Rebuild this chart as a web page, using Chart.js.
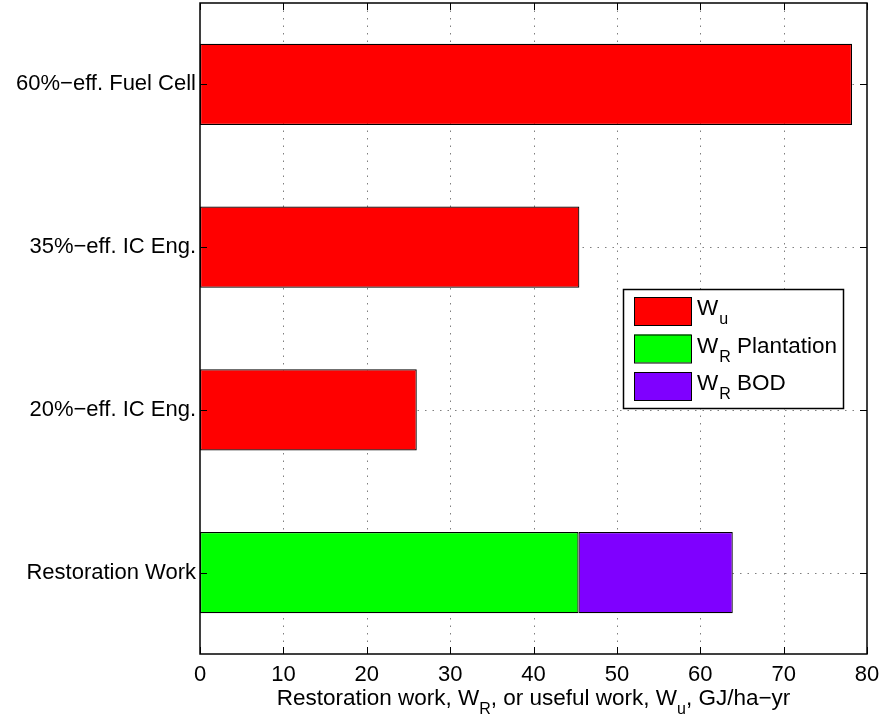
<!DOCTYPE html>
<html>
<head>
<meta charset="utf-8">
<script src="https://cdn.jsdelivr.net/npm/chart.js@4/dist/chart.umd.min.js"></script>
<style>
  html, body { margin: 0; padding: 0; background: #fff; }
  #wrap { width: 882px; height: 721px; }
</style>
</head>
<body>
<div id="wrap"><canvas id="myChart" width="882" height="721"></canvas></div>
<script>
// chart data
var categories = ["60%\u2212eff. Fuel Cell", "35%\u2212eff. IC Eng.", "20%\u2212eff. IC Eng.", "Restoration Work"];
var usefulWork = [78.2, 45.5, 26.0, null];   // W_u
var plantation = [null, null, null, 45.4];   // W_R Plantation
var bod = [null, null, null, 18.5];          // W_R BOD (stacked on plantation)
var xTicks = [0, 10, 20, 30, 40, 50, 60, 70, 80];

// legend text: main letter, subscript, rest
var legendMain = ["W", "W", "W"];
var legendSub = ["u", "R", "R"];
var legendRest = ["", " Plantation", " BOD"];
var colors = ["rgb(255,0,0)", "rgb(0,255,0)", "rgb(127,0,255)"];

var FONT = "Liberation Sans, Arial, Helvetica, sans-serif";
var myChart;

// matlab style box, dotted grid, inward ticks, subscripted labels
var matlabAxes = {
  id: "matlabAxes",
  beforeDatasetsDraw: function (chart) {
    var ctx = chart.ctx, a = chart.chartArea;
    var xs = chart.scales.x, ys = chart.scales.y;
    ctx.save();
    ctx.strokeStyle = "rgba(0,0,0,0.5)";
    ctx.lineWidth = 1;
    ctx.setLineDash([1.5, 6]);
    xTicks.forEach(function (v) {
      if (v === xTicks[0] || v === xTicks[xTicks.length - 1]) return;
      var px = Math.round(xs.getPixelForValue(v)) + 0.5;
      ctx.beginPath();
      ctx.moveTo(px, a.top);
      ctx.lineTo(px, a.bottom);
      ctx.stroke();
    });
    categories.forEach(function (c, i) {
      var py = Math.round(ys.getPixelForValue(i)) + 0.5;
      ctx.beginPath();
      ctx.moveTo(a.left, py);
      ctx.lineTo(a.right, py);
      ctx.stroke();
    });
    ctx.restore();
  },
  afterDatasetsDraw: function (chart) {
    var ctx = chart.ctx, a = chart.chartArea;
    var xs = chart.scales.x, ys = chart.scales.y;
    var tl = 7;
    ctx.save();
    ctx.strokeStyle = "#000";
    ctx.lineWidth = 1.5;
    ctx.strokeRect(a.left, a.top, a.right - a.left, a.bottom - a.top);
    ctx.lineWidth = 1;
    ctx.beginPath();
    xTicks.forEach(function (v) {
      var px = Math.round(xs.getPixelForValue(v)) + 0.5;
      ctx.moveTo(px, a.bottom);
      ctx.lineTo(px, a.bottom - tl);
      ctx.moveTo(px, a.top);
      ctx.lineTo(px, a.top + tl);
    });
    categories.forEach(function (c, i) {
      var py = Math.round(ys.getPixelForValue(i)) + 0.5;
      ctx.moveTo(a.left, py);
      ctx.lineTo(a.left + tl, py);
      ctx.moveTo(a.right, py);
      ctx.lineTo(a.right - tl, py);
    });
    ctx.stroke();
    ctx.restore();
  },
  afterDraw: function (chart) {
    var ctx = chart.ctx, a = chart.chartArea;
    ctx.save();
    ctx.fillStyle = "#000";
    ctx.textBaseline = "alphabetic";

    // x axis title with subscripts
    var parts = [
      ["Restoration work, W", 0], ["R", 1], [", or useful work, W", 0], ["u", 1], [", GJ/ha\u2212yr", 0]
    ];
    var big = "22.5px " + FONT, small = "16px " + FONT;
    var total = 0;
    parts.forEach(function (p) {
      ctx.font = p[1] ? small : big;
      total += ctx.measureText(p[0]).width;
    });
    var x = (a.left + a.right) / 2 - total / 2;
    var base = 705;
    parts.forEach(function (p) {
      ctx.font = p[1] ? small : big;
      ctx.fillText(p[0], x, p[1] ? base + 9 : base);
      x += ctx.measureText(p[0]).width;
    });

    // legend box
    var lx = 623, ly = 289, lw = 220, lh = 119;
    ctx.fillStyle = "#fff";
    ctx.fillRect(lx, ly, lw, lh);
    ctx.strokeStyle = "#000";
    ctx.lineWidth = 1.5;
    ctx.strokeRect(lx + 0.5, ly + 0.5, lw, lh);
    ctx.lineWidth = 1;
    for (var i = 0; i < legendMain.length; i++) {
      var sy = 297 + i * 37.5;
      ctx.fillStyle = colors[i];
      ctx.fillRect(634, sy, 57, 28);
      ctx.strokeStyle = "#000";
      ctx.strokeRect(634.5, sy + 0.5, 57, 28);
      ctx.fillStyle = "#000";
      var tx = 697, bl = sy + 18;
      ctx.font = big;
      ctx.fillText(legendMain[i], tx, bl);
      tx += ctx.measureText(legendMain[i]).width + 1;
      ctx.font = small;
      ctx.fillText(legendSub[i], tx, bl + 9);
      tx += ctx.measureText(legendSub[i]).width;
      ctx.font = big;
      ctx.fillText(legendRest[i], tx, bl);
    }
    ctx.restore();
  }
};

(function () {
  buildChart();
})();

function noPad(scale) {
  scale.paddingTop = 0;
  scale.paddingBottom = 0;
  scale.paddingLeft = 0;
  scale.paddingRight = 0;
}

function buildChart() {
  var ctx = document.getElementById("myChart").getContext("2d");
  myChart = new Chart(ctx, {
    type: "bar",
    data: {
      labels: categories,
      datasets: [
        { label: "W_u", data: usefulWork, backgroundColor: colors[0] },
        { label: "W_R Plantation", data: plantation, backgroundColor: colors[1] },
        { label: "W_R BOD", data: bod, backgroundColor: colors[2] }
      ]
    },
    options: {
      indexAxis: "y",
      responsive: false,
      animation: false,
      devicePixelRatio: 1,
      layout: { padding: { top: 3, right: 15, bottom: 0, left: 0 } },
      datasets: {
        bar: {
          borderColor: "#000",
          borderWidth: 1.2,
          borderSkipped: false,
          barPercentage: 0.5,
          categoryPercentage: 1.0
        }
      },
      plugins: {
        legend: { display: false },
        tooltip: { enabled: false }
      },
      scales: {
        x: {
          stacked: true,
          min: 0,
          max: 80,
          afterBuildTicks: function (scale) {
            scale.ticks = xTicks.map(function (v) { return { value: v }; });
          },
          afterFit: function (scale) { scale.height = 67; noPad(scale); },
          grid: { display: false, drawTicks: false },
          border: { display: false },
          ticks: {
            padding: 8,
            color: "#000",
            font: { family: FONT, size: 22 },
            maxRotation: 0
          }
        },
        y: {
          stacked: true,
          afterFit: function (scale) { scale.width = 200; noPad(scale); },
          grid: { display: false, drawTicks: false, offset: false },
          border: { display: false },
          ticks: {
            padding: 4,
            color: "#000",
            font: { family: FONT, size: 22 }
          }
        }
      }
    },
    plugins: [matlabAxes]
  });
}
</script>
</body>
</html>
